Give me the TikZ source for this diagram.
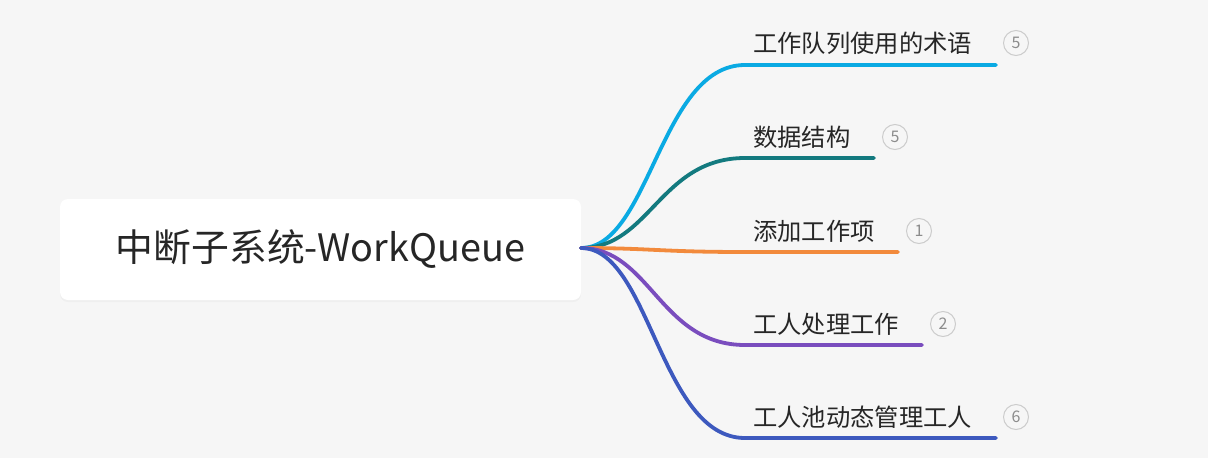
\documentclass[tikz,border=0pt]{standalone}
\usepackage{fontspec}
\usepackage{xcolor}
\usepackage{tikz}
\usetikzlibrary{calc, positioning, shadows}
\newfontfamily\cjk{Noto Sans CJK SC}

\definecolor{bgray}{HTML}{F6F6F6}
\definecolor{txtc}{HTML}{262626}
\definecolor{cA}{HTML}{0AAAE3}
\definecolor{cB}{HTML}{137A7F}
\definecolor{cC}{HTML}{F28A3C}
\definecolor{cD}{HTML}{7A4DBE}
\definecolor{cE}{HTML}{3D59BE}

\tikzset{
    rootbox/.style={fill=white, rounded corners=8pt, minimum width=521pt,
        minimum height=101pt, inner sep=0pt, text=txtc,
        font=\cjk\fontsize{37.8}{42}\selectfont,
        drop shadow={opacity=0.06, shadow xshift=0pt, shadow yshift=-2pt}},
    leaf/.style={anchor=base west, inner sep=0pt, text=txtc,
        font=\cjk\fontsize{24.3}{27}\selectfont},
    badge/.style={circle, draw=black!20, line width=1pt, minimum size=25pt,
        inner sep=0pt, text=black!45, font=\cjk\fontsize{16}{17}\selectfont},
    branch/.style={line width=3.8pt, line cap=round}
}

\begin{document}
\begin{tikzpicture}[x=1pt, y=-1pt]
    % 1. Nền
    \fill[bgray] (0,0) rectangle (1208,458);
    \useasboundingbox (0,0) rectangle (1208,458);

    % 2. Nút gốc
    \node[rootbox] (root) at (320.5,249.5) {中断子系统-WorkQueue};
    \coordinate (o) at (581,248);

    % 3. Các nhánh
    \node[leaf] (t1) at (753,52) {工作队列使用的术语};
    \node[leaf] (t2) at (753,146) {数据结构};
    \node[leaf] (t3) at (753,240) {添加工作项};
    \node[leaf] (t4) at (753,333) {工人处理工作};
    \node[leaf] (t5) at (753,426) {工人池动态管理工人};

    \node[badge] (n1) at (1016,43) {5};
    \node[badge] (n2) at (895,137) {5};
    \node[badge] (n3) at (919,231) {1};
    \node[badge] (n4) at (943,324) {2};
    \node[badge] (n5) at (1016,417) {6};

    % 4. Đường nối
    \foreach \i/\y/\xe/\c in {1/65/996/cA, 2/158/874/cB, 3/252/898/cC,
                              4/345/922/cD, 5/438/996/cE} {
        \coordinate (s\i) at (745,\y);
        \coordinate (e\i) at (\xe,\y);
        \draw[branch, \c] (o) .. controls (650,248) and (660,\y) .. (s\i) -- (e\i);
    }
\end{tikzpicture}
\end{document}
